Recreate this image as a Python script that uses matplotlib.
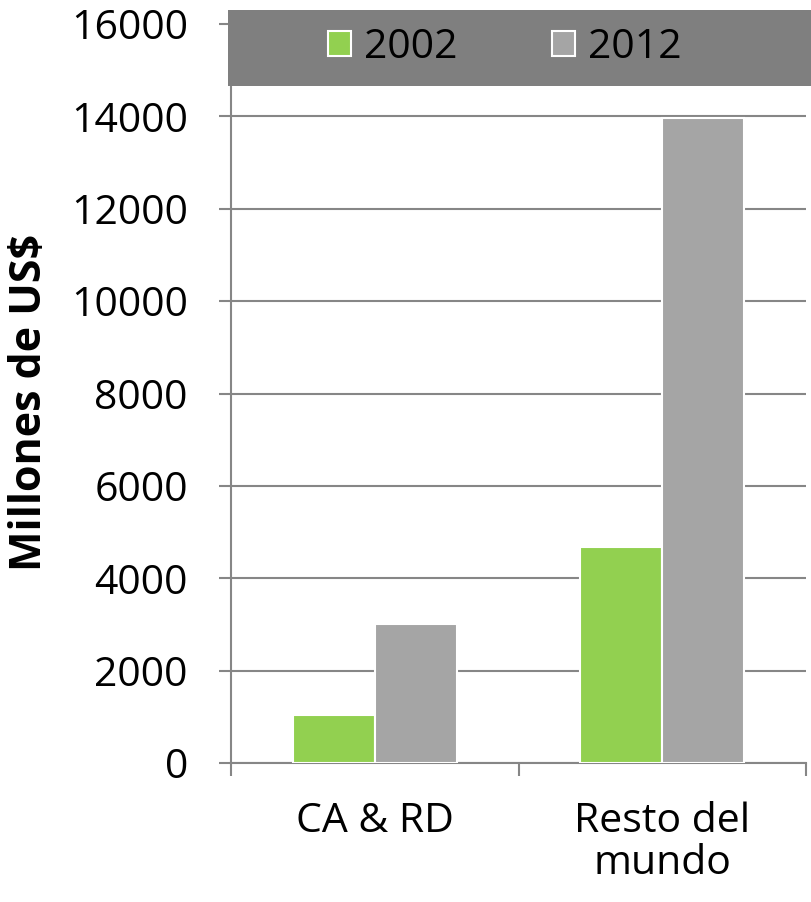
import numpy as np
import matplotlib.pyplot as plt
from matplotlib.patches import Rectangle

categories = ['CA & RD', 'Resto del\nmundo']
series = ['2002', '2012']
values_2002 = [1030, 4680]
values_2012 = [3020, 13970]
colors = ['#92D050', '#A5A5A5']

plt.rcParams['font.family'] = ['Open Sans', 'DejaVu Sans']

fig = plt.figure(figsize=(8.11, 9.02), dpi=100)
ax = fig.add_axes([231/811, 1-763/902, 575/811, 739/902])

x = np.arange(len(categories))
w = 0.285
ax.bar(x - w/2, values_2002, w, color=colors[0], edgecolor='white', linewidth=1.5, label=series[0], zorder=3)
ax.bar(x + w/2, values_2012, w, color=colors[1], edgecolor='white', linewidth=1.5, label=series[1], zorder=3)

ax.set_xlim(-0.5, 1.5)
ax.set_ylim(0, 16000)
ax.set_yticks(np.arange(0, 16001, 2000))
ax.grid(axis='y', color='#868686', linewidth=1.5, zorder=0)

for s in ['top', 'right']:
    ax.spines[s].set_visible(False)
for s in ['left', 'bottom']:
    ax.spines[s].set_color('#868686')
    ax.spines[s].set_linewidth(1.5)

ax.tick_params(axis='y', length=9, width=1.5, color='#868686', labelsize=29.5, pad=22)
ax.set_xticks(x)
ax.set_xticklabels(categories, linespacing=1.05)
ax.tick_params(axis='x', which='major', length=0, labelsize=29.5, pad=28)
ax.set_xticks([-0.5, 0.5, 1.5], minor=True)
ax.tick_params(axis='x', which='minor', length=9, width=1.5, color='#868686')

fig.text(30/811, 1-402/902, 'Millones de US$', rotation=90, ha='center', va='center',
         fontsize=31, fontweight='bold')

# legend band across the top
fig.add_artist(Rectangle((228/811, 1-86/902), (811-228)/811, 76/902,
                         transform=fig.transFigure, facecolor='#7F7F7F', edgecolor='none', zorder=2))
fig.legend(loc='center', bbox_to_anchor=(505/811, 1-48/902), ncol=2, frameon=False,
           fontsize=29.5, handlelength=0.56, handleheight=0.56, handletextpad=0.32,
           columnspacing=2.3, borderaxespad=0)

fig.savefig('out.png', dpi=100)
